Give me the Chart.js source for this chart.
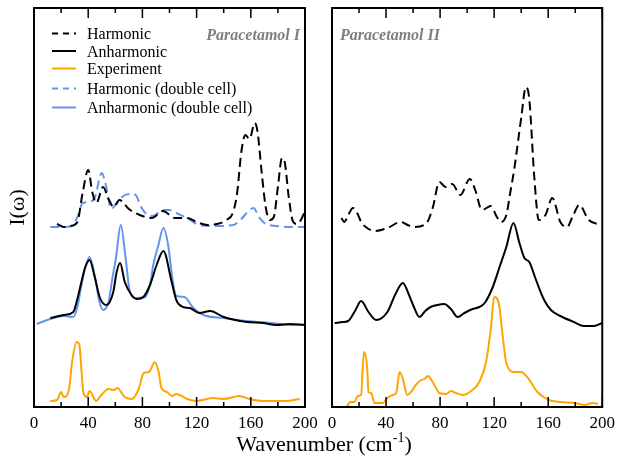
<!DOCTYPE html>
<html>
<head>
<meta charset="utf-8">
<title>Paracetamol spectra</title>
<script src="https://cdn.jsdelivr.net/npm/chart.js@4.4.1/dist/chart.umd.min.js"></script>
<style>
  html, body { margin: 0; padding: 0; background: #fff; }
  #wrap { position: relative; width: 621px; height: 457px; overflow: hidden; }
  #leftChart { position: absolute; left: 0; top: 0; }
  #rightChart { position: absolute; left: 310px; top: 0; }
  #xTitle {
    position: absolute; left: 0; top: 433px; width: 648px; text-align: center;
    font: 22px "Liberation Serif", "Times New Roman", serif; line-height: 1; color: #000;
  }
  #xTitle span { position: relative; top: -9px; font-size: 14px; }
</style>
</head>
<body>
<div id="wrap">
  <canvas id="leftChart" width="330" height="457"></canvas>
  <canvas id="rightChart" width="311" height="457"></canvas>
  <div id="xTitle">Wavenumber (cm<span>-1</span>)</div>
</div>
<script>
// x ticks (cm-1)
const majorTicks = [0, 40, 80, 120, 160, 200];
const minorTicks = [20, 60, 100, 140, 180];

// Paracetamol I (intensity in arbitrary units, curves offset vertically)
const harmIx = [17, 22, 27, 32, 36, 40, 43, 46, 51, 55, 59, 63, 70, 78, 87, 95, 104, 113, 120, 128, 135, 142, 147, 150, 153, 156, 159, 163, 165, 168, 171, 174, 177, 180, 183, 185, 188, 191, 194, 197, 200];
const harmIy = [183, 180, 181, 185, 215, 237, 215, 204, 220, 208, 200, 207, 198, 192, 189, 196, 189, 189, 185, 182, 183, 187, 195, 215, 255, 272, 268, 284, 275, 235, 200, 187, 190, 220, 249, 245, 210, 186, 183, 187, 196];

const harmDblIx = [12, 20, 28, 32, 36, 41, 45, 50, 53, 57, 61, 66, 72, 75, 79, 83, 88, 95, 100, 105, 113, 122, 135, 147, 153, 157, 162, 166, 170, 179, 190, 200];
const harmDblIy = [180, 180, 181, 190, 204, 205, 210, 234, 222, 198, 204, 211, 213, 212, 200, 193, 191, 197, 197, 194, 189, 182, 181, 182, 188, 194, 199, 190, 184, 181, 180, 180];

const anhIx = [12, 22, 29, 32, 35, 37.6, 41, 45, 48.7, 53.5, 58.5, 61, 63.5, 67, 72, 76, 80.7, 85.6, 90.5, 95.5, 101.6, 105, 110, 115, 122, 130, 140, 157, 169, 179, 189, 200];
const anhIy = [89, 92, 95, 108, 125, 139, 147, 129, 109, 102, 115, 135, 144, 125, 112, 108, 110, 122, 142, 156, 125, 107, 100, 99, 94, 96, 90, 85, 84, 82, 83, 82];

const anhDblIx = [2, 12, 22, 29, 32, 35, 38, 41, 45, 48, 51, 55, 58, 60.5, 64, 67.6, 70.8, 75, 82, 86, 88, 91.8, 95.5, 99, 102, 105, 111, 117, 125, 140, 157, 174, 191, 200];
const anhDblIy = [83, 88, 91, 90, 100, 122, 140, 150, 130, 107, 97, 105, 130, 149, 182, 149, 115, 109, 110, 125, 142, 162, 179, 162, 130, 111, 110, 100, 92, 89, 86, 84, 82, 82];

const expIx = [12, 17, 20, 22, 26, 28, 31.5, 33.5, 35, 36.5, 39, 41, 46, 48.5, 55, 59, 61.5, 67, 72, 77, 81, 85, 87, 89, 92, 94, 98, 102, 105, 113, 120, 132, 140, 151.5, 159, 169, 186, 196];
const expIy = [6, 7, 15, 10, 19, 44, 65, 62, 37, 14, 10, 16, 6, 10, 18, 17, 19, 10, 8, 17, 34, 35, 40, 45, 35, 19, 15, 11, 13, 8, 6, 9, 8, 11, 8, 6, 6, 8];

// Paracetamol II
const harmIIx = [7, 9, 12, 15.5, 19, 21.6, 26, 31.5, 41, 51, 56, 61, 70, 74.5, 79.5, 84, 89, 95, 102, 106, 111, 117.6, 122, 125, 129, 132, 135, 140, 143.5, 146, 149.6, 153, 158, 163, 169, 174, 178, 183, 190, 199];
const harmIIy = [189, 185, 192, 199, 193, 185, 179, 176, 179, 185, 182, 180, 184, 199, 225, 220, 223, 212, 228, 217, 197, 201, 190, 185, 192, 215, 239, 289, 320, 308, 232, 187, 192, 209, 185, 180, 190, 202, 187, 182];

const anhIIx = [2, 8, 12, 17, 21.6, 27, 32.7, 41, 47, 52.4, 57, 60, 64.7, 69, 73, 78, 83, 88, 93, 98, 104, 109, 113, 119, 124, 129, 134.3, 138.7, 142.4, 146, 151, 157, 162, 169, 179, 186.5, 194, 200];
const anhIIy = [84, 85, 86, 96, 106, 95, 87, 95, 113, 124, 112, 102, 90, 96, 100, 102, 103, 98, 90, 94, 98, 100, 104, 120, 140, 160, 184, 164, 149, 145, 127, 107, 97, 91, 85, 81, 81, 84];

const expIIx = [10.6, 13.8, 16.7, 19, 21.5, 23.6, 26, 27, 29, 31.5, 37.6, 41, 45, 47.5, 50, 52.5, 55.6, 58.5, 62, 66, 68.5, 71, 74.5, 79.5, 84.5, 88, 91.6, 96.7, 103, 109, 114, 117.6, 120, 123.7, 126, 129, 135, 140, 145, 152, 160.6, 169, 180, 187, 192.6, 197];
const expIIy = [0, 5, 5, 11, 12, 55, 40, 15, 14, 4, 4, 9, 12, 14, 35, 28, 12, 15, 22, 27, 28, 31, 25, 14, 13, 16, 14, 12, 16, 25, 45, 79, 110, 102, 75, 44, 35, 35, 29, 15, 7, 5, 4, 2, 4, 3];

const BLUE = '#6495ED';
const ORANGE = '#FFA500';
const SERIF = '"Liberation Serif", "Times New Roman", serif';

const toXY = (xs, ys) => xs.map((x, i) => ({ x: x, y: ys[i] }));

const line = (label, xs, ys, color, dashed) => ({
    label: label,
    data: toXY(xs, ys),
    borderColor: color,
    borderWidth: 2,
    borderDash: dashed ? [9, 5] : [],
    pointRadius: 0,
    fill: false,
    cubicInterpolationMode: 'monotone'
});

// frame + inward ticks on top and bottom, panel name
const framePlugin = {
    id: 'frame',
    afterDraw(chart) {
        const { ctx, chartArea: a, scales: { x } } = chart;
        ctx.save();
        ctx.strokeStyle = '#000';
        ctx.lineWidth = 1.5;
        const tick = (v, len) => {
            const px = x.getPixelForValue(v);
            ctx.beginPath();
            ctx.moveTo(px, a.bottom); ctx.lineTo(px, a.bottom - len);
            ctx.moveTo(px, a.top); ctx.lineTo(px, a.top + len);
            ctx.stroke();
        };
        majorTicks.forEach(v => tick(v, 10));
        minorTicks.forEach(v => tick(v, 5));
        ctx.lineWidth = 2;
        ctx.strokeRect(a.left, a.top, a.right - a.left, a.bottom - a.top);

        const name = chart.options.plugins.frame.name;
        ctx.font = 'italic bold 16px ' + SERIF;
        ctx.fillStyle = '#7f7f7f';
        ctx.textBaseline = 'alphabetic';
        if (chart.options.plugins.frame.nameRight) {
            ctx.textAlign = 'right';
            ctx.fillText(name, a.right - 5, 39.5);
        } else {
            ctx.textAlign = 'left';
            ctx.fillText(name, a.left + 8, 39.5);
        }
        ctx.restore();
    }
};

// legend drawn inside the left panel
const legendPlugin = {
    id: 'insideLegend',
    afterDraw(chart) {
        if (!chart.options.plugins.insideLegend.show) return;
        const { ctx } = chart;
        const rows = [33.5, 51, 68.5, 88.5, 107.5];
        ctx.save();
        ctx.font = '16px ' + SERIF;
        ctx.textAlign = 'left';
        ctx.textBaseline = 'middle';
        chart.data.datasets.forEach((ds, i) => {
            const y = rows[i];
            ctx.strokeStyle = ds.borderColor;
            ctx.lineWidth = 2;
            ctx.setLineDash(ds.borderDash.length ? [6, 5] : []);
            ctx.beginPath();
            ctx.moveTo(52, y); ctx.lineTo(76, y);
            ctx.stroke();
            ctx.setLineDash([]);
            ctx.fillStyle = '#000';
            ctx.fillText(ds.label, 87, y + 1.5);
        });
        ctx.restore();
    }
};

const xAxis = {
    type: 'linear',
    min: 0,
    max: 200,
    grid: { display: false, drawTicks: false },
    border: { display: false },
    ticks: {
        stepSize: 40,
        autoSkip: false,
        maxRotation: 0,
        padding: 6,
        color: '#000',
        font: { family: SERIF, size: 17 }
    },
    afterFit: s => { s.height = 50; }
};

new Chart(document.getElementById('leftChart'), {
    type: 'line',
    data: {
        datasets: [
            line('Harmonic', harmIx, harmIy, '#000', true),
            line('Anharmonic', anhIx, anhIy, '#000', false),
            line('Experiment', expIx, expIy, ORANGE, false),
            line('Harmonic (double cell)', harmDblIx, harmDblIy, BLUE, true),
            line('Anharmonic (double cell)', anhDblIx, anhDblIy, BLUE, false)
        ]
    },
    options: {
        responsive: false,
        animation: false,
        layout: { padding: { top: 8, right: 25, left: 0, bottom: 0 } },
        scales: {
            x: xAxis,
            y: {
                min: 0,
                max: 399,
                grid: { display: false, drawTicks: false },
                border: { display: false },
                ticks: { display: false },
                title: {
                    display: true,
                    text: 'I(ω)',
                    color: '#000',
                    font: { family: SERIF, size: 22 },
                    padding: { top: 5, bottom: 0 }
                },
                afterFit: s => { s.width = 34; }
            }
        },
        plugins: {
            legend: { display: false },
            tooltip: { enabled: false },
            frame: { name: 'Paracetamol I', nameRight: true },
            insideLegend: { show: true }
        }
    },
    plugins: [framePlugin, legendPlugin]
});

new Chart(document.getElementById('rightChart'), {
    type: 'line',
    data: {
        datasets: [
            line('Harmonic', harmIIx, harmIIy, '#000', true),
            line('Anharmonic', anhIIx, anhIIy, '#000', false),
            line('Experiment', expIIx, expIIy, ORANGE, false)
        ]
    },
    options: {
        responsive: false,
        animation: false,
        layout: { padding: { top: 8, right: 18, left: 22, bottom: 0 } },
        scales: {
            x: xAxis,
            y: {
                display: false,
                min: 0,
                max: 399
            }
        },
        plugins: {
            legend: { display: false },
            tooltip: { enabled: false },
            frame: { name: 'Paracetamol II', nameRight: false },
            insideLegend: { show: false }
        }
    },
    plugins: [framePlugin, legendPlugin]
});
</script>
</body>
</html>
